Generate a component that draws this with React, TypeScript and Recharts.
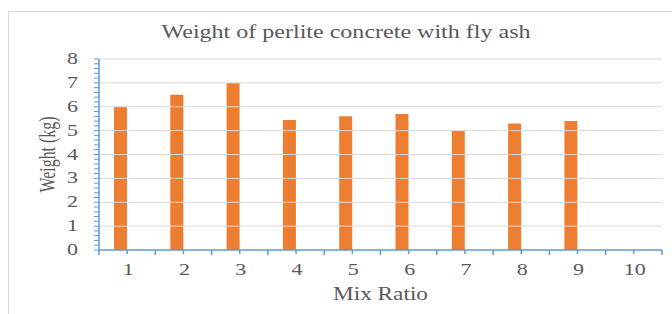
import React from 'react';
import { BarChart, Bar, XAxis, YAxis, ReferenceLine, Label } from 'recharts';

// values
const mixRatios = ['1', '2', '3', '4', '5', '6', '7', '8', '9', '10'];
const weights = [6.0, 6.5, 7.0, 5.45, 5.6, 5.7, 5.0, 5.3, 5.4, null];
// second (empty) series that keeps each bar on the left half of its slot
const emptySeries = [null, null, null, null, null, null, null, null, null, null];
const gridValues = [1, 2, 3, 4, 5, 6, 7, 8];

const minorStep = 0.2;
const yTicks = Array.from({ length: 41 }, (_, i) => Math.round(i * minorStep * 10) / 10);

const chartData = mixRatios.map((ratio, i) => ({
    ratio,
    weight: weights[i],
    empty: emptySeries[i],
}));

const W = 672;
const H = 314;
const MARGIN = { top: 59, right: 10, bottom: 0, left: 0 };
const Y_AXIS_W = 99;
const PLOT_W = W - MARGIN.left - MARGIN.right - Y_AXIS_W;
const HALF_BAND = PLOT_W / mixRatios.length / 2;

const AXIS_BLUE = '#5B9BD5';
const TEXT = '#595959';
const FONT = '"Liberation Serif", "Times New Roman", serif';

const X_TICK_SIZE = 4;
const X_TICK_MARGIN = 8;

const XTick = (props: any) => {
    const { x, y, payload, index } = props;
    const axisY = y - X_TICK_SIZE - X_TICK_MARGIN;
    const label = String(payload.value);
    return (
        <g>
            <line x1={x - HALF_BAND} x2={x - HALF_BAND} y1={axisY} y2={axisY + X_TICK_SIZE + 1} stroke={AXIS_BLUE} strokeWidth={1.5} />
            {index === mixRatios.length - 1 && (
                <line x1={x + HALF_BAND} x2={x + HALF_BAND} y1={axisY} y2={axisY + X_TICK_SIZE + 1} stroke={AXIS_BLUE} strokeWidth={1.5} />
            )}
            <text
                x={x + 1}
                y={y + 13}
                textAnchor="middle"
                fill={TEXT}
                fontSize={17}
                fontFamily={FONT}
                textLength={11 * label.length}
                lengthAdjust="spacingAndGlyphs"
            >
                {label}
            </text>
        </g>
    );
};

const YTick = (props: any) => {
    const { x, y, payload } = props;
    if (!Number.isInteger(payload.value)) return <g />;
    const label = String(payload.value);
    return (
        <text
            x={x}
            y={y + 5}
            textAnchor="end"
            fill={TEXT}
            fontSize={17}
            fontFamily={FONT}
            textLength={11 * label.length}
            lengthAdjust="spacingAndGlyphs"
        >
            {label}
        </text>
    );
};

const renderXTitle = (props: any) => {
    const vb = props.viewBox || {};
    const cx = (vb.x ?? Y_AXIS_W) + (vb.width ?? PLOT_W) / 2;
    return (
        <text x={cx} y={300} textAnchor="middle" fill={TEXT} fontSize={18} fontFamily={FONT} textLength={95} lengthAdjust="spacingAndGlyphs">
            Mix Ratio
        </text>
    );
};

const renderYTitle = (props: any) => {
    const vb = props.viewBox || {};
    const cy = (vb.y ?? MARGIN.top) + (vb.height ?? 191) / 2;
    return (
        <text
            x={0}
            y={0}
            transform={`translate(55 ${cy}) rotate(-90) scale(1 1.4)`}
            textAnchor="middle"
            fill={TEXT}
            fontSize={16}
            fontFamily={FONT}
            textLength={76}
            lengthAdjust="spacingAndGlyphs"
        >
            Weight (kg)
        </text>
    );
};

export default function App() {
    return (
        <div style={{ position: 'absolute', left: 0, top: 0, width: W, height: H, overflow: 'hidden', background: '#fff' }}>
            <div
                style={{
                    position: 'absolute',
                    left: 8,
                    top: 11,
                    width: 720,
                    height: 400,
                    border: '1px solid #d9d9d9',
                    boxSizing: 'border-box',
                }}
            />
            <div style={{ position: 'absolute', left: 0, top: 0 }}>
                <BarChart width={W} height={H} data={chartData} margin={MARGIN} barGap={0} barSize={13}>
                    <text
                        x={346}
                        y={38}
                        textAnchor="middle"
                        fill={TEXT}
                        fontSize={18}
                        fontFamily={FONT}
                        textLength={369}
                        lengthAdjust="spacingAndGlyphs"
                    >
                        Weight of perlite concrete with fly ash
                    </text>
                    {gridValues.map(v => (
                        <ReferenceLine key={v} y={v} stroke="#d9d9d9" strokeWidth={1} />
                    ))}
                    <XAxis
                        dataKey="ratio"
                        height={H - MARGIN.top - 191 - MARGIN.bottom}
                        interval={0}
                        tick={XTick}
                        tickSize={X_TICK_SIZE}
                        tickMargin={X_TICK_MARGIN}
                        axisLine={{ stroke: AXIS_BLUE, strokeWidth: 1.5 }}
                        tickLine={{ stroke: AXIS_BLUE, strokeWidth: 1.5 }}
                    >
                        <Label content={renderXTitle} />
                    </XAxis>
                    <YAxis
                        width={Y_AXIS_W}
                        domain={[0, 8]}
                        ticks={yTicks}
                        interval={0}
                        tick={YTick}
                        tickSize={5}
                        tickMargin={16}
                        axisLine={{ stroke: AXIS_BLUE, strokeWidth: 1.5 }}
                        tickLine={{ stroke: AXIS_BLUE, strokeWidth: 1 }}
                    >
                        <Label content={renderYTitle} />
                    </YAxis>
                    <Bar dataKey="weight" fill="#ED7D31" isAnimationActive={false} />
                    <Bar dataKey="empty" fill="transparent" isAnimationActive={false} />
                </BarChart>
            </div>
        </div>
    );
}
